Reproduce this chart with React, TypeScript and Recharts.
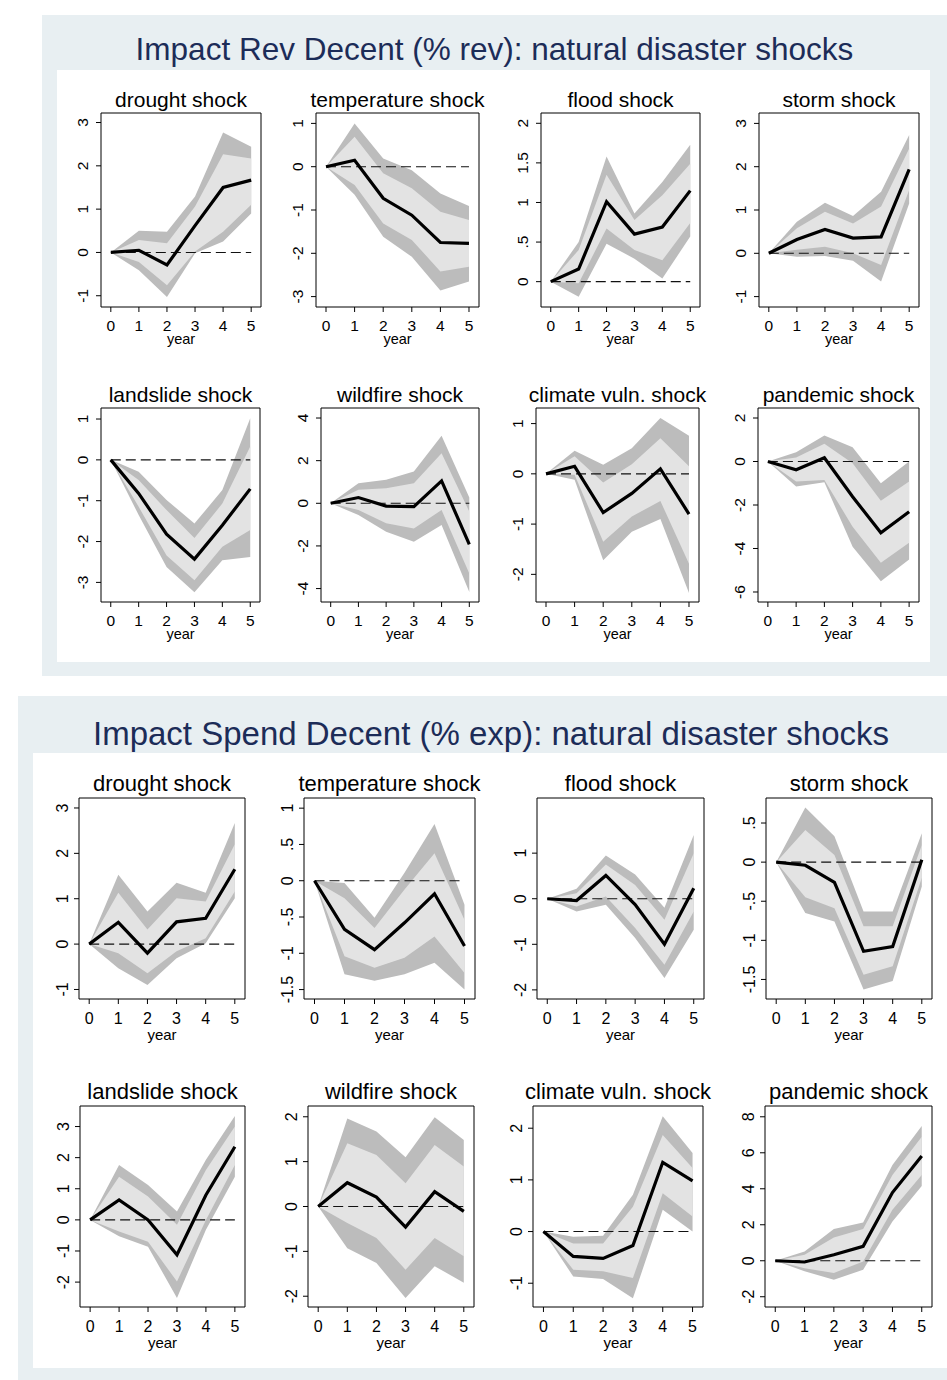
import React from 'react'
import { ComposedChart, Area, Line, XAxis, YAxis, ReferenceArea, ReferenceLine } from 'recharts'

const FONT = '"Liberation Sans", Arial, Helvetica, sans-serif'
const YEARS = [0, 1, 2, 3, 4, 5]

// ---- revenue panel: point estimate, inner (light) and outer (dark) bands ----
const revDroughtEst = [0, 0.05, -0.29, 0.62, 1.5, 1.67]
const revDroughtLo90 = [0, -0.22, -0.76, 0.02, 0.48, 1.1]
const revDroughtHi90 = [0, 0.29, 0.21, 1.06, 2.27, 2.17]
const revDroughtLo95 = [0, -0.41, -1.03, -0.02, 0.25, 0.9]
const revDroughtHi95 = [0, 0.5, 0.48, 1.29, 2.77, 2.44]

const revTempEst = [0, 0.15, -0.73, -1.12, -1.75, -1.77]
const revTempLo90 = [0, -0.42, -1.31, -1.69, -2.42, -2.31]
const revTempHi90 = [0, 0.69, -0.15, -0.5, -1.04, -1.23]
const revTempLo95 = [0, -0.65, -1.62, -2.08, -2.86, -2.65]
const revTempHi95 = [0, 1.0, 0.19, -0.08, -0.62, -0.91]

const revFloodEst = [0, 0.16, 1.01, 0.6, 0.69, 1.15]
const revFloodLo90 = [0, -0.02, 0.67, 0.4, 0.27, 0.74]
const revFloodHi90 = [0, 0.4, 1.35, 0.78, 1.09, 1.49]
const revFloodLo95 = [0, -0.19, 0.48, 0.29, 0.04, 0.57]
const revFloodHi95 = [0, 0.5, 1.58, 0.86, 1.26, 1.73]

const revStormEst = [0, 0.32, 0.55, 0.35, 0.38, 1.94]
const revStormLo90 = [0, 0.08, 0.15, 0.0, -0.27, 1.46]
const revStormHi90 = [0, 0.58, 0.96, 0.69, 1.08, 2.42]
const revStormLo95 = [0, -0.08, -0.06, -0.17, -0.65, 1.15]
const revStormHi95 = [0, 0.73, 1.17, 0.86, 1.42, 2.73]

const revSlideEst = [0, -0.82, -1.82, -2.43, -1.6, -0.71]
const revSlideLo90 = [0, -1.15, -2.34, -2.95, -2.13, -1.72]
const revSlideHi90 = [0, -0.49, -1.23, -1.91, -1.07, 0.33]
const revSlideLo95 = [0, -1.35, -2.62, -3.24, -2.46, -2.38]
const revSlideHi95 = [0, -0.29, -0.98, -1.56, -0.74, 1.02]

const revFireEst = [0, 0.27, -0.13, -0.16, 1.05, -1.93]
const revFireLo90 = [0, -0.31, -0.94, -1.18, -0.31, -3.29]
const revFireHi90 = [0, 0.63, 0.71, 0.94, 2.35, -0.39]
const revFireLo95 = [0, -0.55, -1.33, -1.8, -1.02, -4.16]
const revFireHi95 = [0, 0.94, 1.1, 1.49, 3.17, 0.27]

const revClimEst = [0, 0.15, -0.77, -0.39, 0.1, -0.8]
const revClimLo90 = [0, -0.02, -1.35, -0.85, -0.54, -1.79]
const revClimHi90 = [0, 0.35, -0.17, 0.19, 0.71, 0.15]
const revClimLo95 = [0, -0.12, -1.72, -1.15, -0.9, -2.37]
const revClimHi95 = [0, 0.46, 0.18, 0.51, 1.11, 0.76]

const revPandEst = [0, -0.38, 0.17, -1.62, -3.28, -2.31]
const revPandLo90 = [0, -0.92, -0.85, -3.0, -4.66, -3.74]
const revPandHi90 = [0, 0.18, 0.82, -0.08, -1.8, -0.92]
const revPandLo95 = [0, -1.15, -0.95, -3.92, -5.51, -4.51]
const revPandHi95 = [0, 0.42, 1.2, 0.65, -1.0, 0.0]

// ---- spending panel ----
const spDroughtEst = [0, 0.48, -0.2, 0.49, 0.57, 1.65]
const spDroughtLo90 = [0, -0.2, -0.64, -0.16, 0.13, 1.16]
const spDroughtHi90 = [0, 1.13, 0.32, 1.01, 0.94, 2.2]
const spDroughtLo95 = [0, -0.53, -0.9, -0.31, 0.02, 1.01]
const spDroughtHi95 = [0, 1.53, 0.72, 1.35, 1.13, 2.67]

const spTempEst = [0, -0.67, -0.95, -0.58, -0.18, -0.9]
const spTempLo90 = [0, -1.04, -1.2, -1.06, -0.77, -1.27]
const spTempHi90 = [0, -0.24, -0.65, -0.12, 0.38, -0.54]
const spTempLo95 = [0, -1.29, -1.38, -1.29, -1.13, -1.5]
const spTempHi95 = [0, -0.03, -0.51, 0.11, 0.78, -0.33]

const spFloodEst = [0, -0.04, 0.51, -0.13, -1.0, 0.23]
const spFloodLo90 = [0, -0.17, 0.05, -0.64, -1.45, -0.28]
const spFloodHi90 = [0, 0.12, 0.75, 0.3, -0.46, 1.0]
const spFloodLo95 = [0, -0.28, -0.13, -0.86, -1.74, -0.68]
const spFloodHi95 = [0, 0.22, 0.95, 0.53, -0.2, 1.4]

const spStormEst = [0, -0.04, -0.26, -1.14, -1.08, 0.03]
const spStormLo90 = [0, -0.45, -0.59, -1.44, -1.33, -0.2]
const spStormHi90 = [0, 0.41, 0.09, -0.82, -0.82, 0.22]
const spStormLo95 = [0, -0.65, -0.76, -1.63, -1.52, -0.31]
const spStormHi95 = [0, 0.7, 0.33, -0.63, -0.63, 0.37]

const spSlideEst = [0, 0.64, 0, -1.12, 0.8, 2.35]
const spSlideLo90 = [0, -0.37, -0.7, -1.98, 0, 1.76]
const spSlideHi90 = [0, 1.39, 0.75, -0.16, 1.6, 3.0]
const spSlideLo95 = [0, -0.53, -0.86, -2.51, -0.32, 1.39]
const spSlideHi95 = [0, 1.76, 1.12, 0.27, 1.93, 3.34]

const spFireEst = [0, 0.53, 0.21, -0.46, 0.33, -0.11]
const spFireLo90 = [0, -0.37, -0.7, -1.41, -0.7, -1.11]
const spFireHi90 = [0, 1.41, 1.15, 0.52, 1.37, 0.89]
const spFireLo95 = [0, -0.93, -1.26, -2.04, -1.33, -1.7]
const spFireHi95 = [0, 1.96, 1.67, 1.1, 1.99, 1.48]

const spClimEst = [0, -0.48, -0.52, -0.27, 1.34, 0.98]
const spClimLo90 = [0, -0.74, -0.77, -0.9, 0.74, 0.29]
const spClimHi90 = [0, -0.23, -0.23, 0.48, 1.87, 1.23]
const spClimLo95 = [0, -0.87, -0.92, -1.29, 0.42, 0.0]
const spClimHi95 = [0, -0.1, -0.08, 0.71, 2.23, 1.52]

const spPandEst = [0, -0.07, 0.33, 0.8, 3.79, 5.82]
const spPandLo90 = [0, -0.41, -0.68, -0.04, 2.83, 4.77]
const spPandHi90 = [0, 0.33, 1.29, 1.76, 4.77, 6.89]
const spPandLo95 = [0, -0.59, -1.05, -0.5, 2.18, 4.16]
const spPandHi95 = [0, 0.52, 1.76, 2.13, 5.32, 7.49]

// y tick values per small chart
const ticksA = [-1, 0, 1, 2, 3]
const ticksTempRev = [-3, -2, -1, 0, 1]
const ticksFloodRev = [0, 0.5, 1, 1.5, 2]
const ticksSlideRev = [-3, -2, -1, 0, 1]
const ticksFireRev = [-4, -2, 0, 2, 4]
const ticksClimRev = [-2, -1, 0, 1]
const ticksPandRev = [-6, -4, -2, 0, 2]
const ticksTempSp = [-1.5, -1, -0.5, 0, 0.5, 1]
const ticksFloodSp = [-2, -1, 0, 1]
const ticksStormSp = [-1.5, -1, -0.5, 0, 0.5]
const ticksSlideSp = [-2, -1, 0, 1, 2, 3]
const ticksFireSp = [-2, -1, 0, 1, 2]
const ticksClimSp = [-1, 0, 1, 2]
const ticksPandSp = [-2, 0, 2, 4, 6, 8]

type Spec = {
  title: string
  est: number[]; lo90: number[]; hi90: number[]; lo95: number[]; hi95: number[]
  ticks: number[]
  domain: [number, number]
  box: [number, number, number, number] // left, top, width, height of plot box
}

const REV: Spec[] = [
  { title: 'drought shock', est: revDroughtEst, lo90: revDroughtLo90, hi90: revDroughtHi90, lo95: revDroughtLo95, hi95: revDroughtHi95, ticks: ticksA, domain: [-1.26, 3.22], box: [101, 113, 160, 194] },
  { title: 'temperature shock', est: revTempEst, lo90: revTempLo90, hi90: revTempHi90, lo95: revTempLo95, hi95: revTempHi95, ticks: ticksTempRev, domain: [-3.24, 1.24], box: [316, 113, 163, 194] },
  { title: 'flood shock', est: revFloodEst, lo90: revFloodLo90, hi90: revFloodHi90, lo95: revFloodLo95, hi95: revFloodHi95, ticks: ticksFloodRev, domain: [-0.32, 2.13], box: [541, 113, 159, 194] },
  { title: 'storm shock', est: revStormEst, lo90: revStormLo90, hi90: revStormHi90, lo95: revStormLo95, hi95: revStormHi95, ticks: ticksA, domain: [-1.24, 3.24], box: [759, 113, 160, 194] },
  { title: 'landslide shock', est: revSlideEst, lo90: revSlideLo90, hi90: revSlideHi90, lo95: revSlideLo95, hi95: revSlideHi95, ticks: ticksSlideRev, domain: [-3.48, 1.27], box: [101, 408, 159, 194] },
  { title: 'wildfire shock', est: revFireEst, lo90: revFireLo90, hi90: revFireHi90, lo95: revFireLo95, hi95: revFireHi95, ticks: ticksFireRev, domain: [-4.63, 4.47], box: [321, 408, 158, 194] },
  { title: 'climate vuln. shock', est: revClimEst, lo90: revClimLo90, hi90: revClimHi90, lo95: revClimLo95, hi95: revClimHi95, ticks: ticksClimRev, domain: [-2.55, 1.31], box: [536, 408, 163, 194] },
  { title: 'pandemic shock', est: revPandEst, lo90: revPandLo90, hi90: revPandHi90, lo95: revPandLo95, hi95: revPandHi95, ticks: ticksPandRev, domain: [-6.46, 2.46], box: [758, 408, 161, 194] },
]

const SPEND: Spec[] = [
  { title: 'drought shock', est: spDroughtEst, lo90: spDroughtLo90, hi90: spDroughtHi90, lo95: spDroughtLo95, hi95: spDroughtHi95, ticks: ticksA, domain: [-1.21, 3.22], box: [79, 798, 166, 201] },
  { title: 'temperature shock', est: spTempEst, lo90: spTempLo90, hi90: spTempHi90, lo95: spTempLo95, hi95: spTempHi95, ticks: ticksTempSp, domain: [-1.63, 1.14], box: [304, 798, 171, 201] },
  { title: 'flood shock', est: spFloodEst, lo90: spFloodLo90, hi90: spFloodHi90, lo95: spFloodLo95, hi95: spFloodHi95, ticks: ticksFloodSp, domain: [-2.2, 2.21], box: [537, 798, 167, 201] },
  { title: 'storm shock', est: spStormEst, lo90: spStormLo90, hi90: spStormHi90, lo95: spStormLo95, hi95: spStormHi95, ticks: ticksStormSp, domain: [-1.75, 0.82], box: [766, 798, 166, 201] },
  { title: 'landslide shock', est: spSlideEst, lo90: spSlideLo90, hi90: spSlideHi90, lo95: spSlideLo95, hi95: spSlideHi95, ticks: ticksSlideSp, domain: [-2.8, 3.66], box: [80, 1106, 165, 201] },
  { title: 'wildfire shock', est: spFireEst, lo90: spFireLo90, hi90: spFireHi90, lo95: spFireLo95, hi95: spFireHi95, ticks: ticksFireSp, domain: [-2.24, 2.24], box: [308, 1106, 166, 201] },
  { title: 'climate vuln. shock', est: spClimEst, lo90: spClimLo90, hi90: spClimHi90, lo95: spClimLo95, hi95: spClimHi95, ticks: ticksClimSp, domain: [-1.46, 2.43], box: [533, 1106, 170, 201] },
  { title: 'pandemic shock', est: spPandEst, lo90: spPandLo90, hi90: spPandHi90, lo95: spPandLo95, hi95: spPandHi95, ticks: ticksPandSp, domain: [-2.57, 8.6], box: [765, 1106, 167, 201] },
]

const BG = '#e8eff2'
const NAVY = '#1c2c58'
const OUTER_FILL = '#bcbcbc'
const INNER_FILL = '#e3e3e3'
const X_DOMAIN: [number, number] = [-0.35, 5.35]

// Stata style: 0.5 -> ".5", -0.5 -> "-.5"
const fmt = (v: number) => String(v).replace(/^(-?)0\./, '$1.')

function RotTick(props: any) {
  const { x, y, payload, fontSize } = props
  return (
    <text x={x} y={y} transform={`rotate(-90 ${x} ${y})`} textAnchor="middle"
      fontSize={fontSize} fontFamily={FONT} fill="#000">
      {fmt(payload.value)}
    </text>
  )
}

type Fonts = { title: number; tick: number; year: number; titleGap: number; yearOffset: number; yMargin: number; xMargin: number }

function SmallChart({ spec, fonts }: { spec: Spec; fonts: Fonts }) {
  const [bx, by, bw, bh] = spec.box
  const padL = 50, padT = 3, padR = 4, padB = 54
  const data = YEARS.map((year, i) => ({
    year,
    est: spec.est[i],
    ci90: [spec.lo90[i], spec.hi90[i]],
    ci95: [spec.lo95[i], spec.hi95[i]],
  }))
  const [yMin, yMax] = spec.domain
  return (
    <>
      <div style={{
        position: 'absolute', left: bx - 60, width: bw + 120, top: by - fonts.titleGap,
        textAlign: 'center', fontSize: fonts.title, lineHeight: `${fonts.title}px`,
        fontFamily: FONT, color: '#000', whiteSpace: 'nowrap',
      }}>{spec.title}</div>
      <div style={{ position: 'absolute', left: bx - padL, top: by - padT }}>
        <ComposedChart width={padL + bw + padR} height={padT + bh + padB} data={data}
          margin={{ top: padT, right: padR, bottom: 0, left: 0 }}>
          <XAxis dataKey="year" type="number" domain={X_DOMAIN} ticks={YEARS} allowDataOverflow
            height={padB} axisLine={false} tickLine={{ stroke: '#000' }} tickSize={5} tickMargin={fonts.xMargin}
            tick={{ fill: '#000', fontSize: fonts.tick, fontFamily: FONT }} interval={0}
            label={{ value: 'year', position: 'insideTop', offset: fonts.yearOffset, fill: '#000', fontSize: fonts.year, fontFamily: FONT }} />
          <YAxis type="number" domain={[yMin, yMax]} ticks={spec.ticks} allowDataOverflow width={padL}
            axisLine={false} tickLine={{ stroke: '#000' }} tickSize={5} tickMargin={fonts.yMargin} interval={0}
            tick={<RotTick fontSize={fonts.tick} />} />
          <Area dataKey="ci95" type="linear" stroke="none" fill={OUTER_FILL} fillOpacity={1} isAnimationActive={false} />
          <Area dataKey="ci90" type="linear" stroke="none" fill={INNER_FILL} fillOpacity={1} isAnimationActive={false} />
          <ReferenceLine segment={[{ x: 0, y: 0 }, { x: 5, y: 0 }]} stroke="#111" strokeWidth={1.1} strokeDasharray="10 5" />
          <Line dataKey="est" type="linear" stroke="#000" strokeWidth={3.2} dot={false} isAnimationActive={false} />
          <ReferenceArea x1={X_DOMAIN[0]} x2={X_DOMAIN[1]} y1={yMin} y2={yMax} fill="none" stroke="#000" strokeWidth={1} ifOverflow="visible" />
        </ComposedChart>
      </div>
    </>
  )
}

export default function App() {
  const revFonts: Fonts = { title: 21, tick: 15.5, year: 14.5, titleGap: 24, yearOffset: 27, yMargin: 8, xMargin: 8 }
  const spFonts: Fonts = { title: 22, tick: 16, year: 15, titleGap: 25, yearOffset: 30, yMargin: 6, xMargin: 9 }
  return (
    <div style={{ position: 'absolute', left: 0, top: 0, width: 947, height: 1380, overflow: 'hidden', background: '#fff', fontFamily: FONT }}>
      {/* revenue panel */}
      <div style={{ position: 'absolute', left: 42, top: 15, width: 905, height: 661, background: BG }} />
      <div style={{ position: 'absolute', left: 57, top: 70, width: 873, height: 592, background: '#fff' }} />
      <div style={{ position: 'absolute', left: 42, width: 905, top: 34, textAlign: 'center', fontSize: 31.5, lineHeight: '31.5px', color: NAVY, whiteSpace: 'nowrap' }}>
        Impact Rev Decent (% rev): natural disaster shocks
      </div>
      {REV.map((s) => <SmallChart key={'r' + s.title} spec={s} fonts={revFonts} />)}

      {/* spending panel */}
      <div style={{ position: 'absolute', left: 18, top: 696, width: 960, height: 700, background: BG }} />
      <div style={{ position: 'absolute', left: 33, top: 753, width: 930, height: 615, background: '#fff' }} />
      <div style={{ position: 'absolute', left: 18, width: 946, top: 717, textAlign: 'center', fontSize: 33, lineHeight: '33px', color: NAVY, whiteSpace: 'nowrap' }}>
        Impact Spend Decent (% exp): natural disaster shocks
      </div>
      {SPEND.map((s) => <SmallChart key={'s' + s.title} spec={s} fonts={spFonts} />)}
    </div>
  )
}
